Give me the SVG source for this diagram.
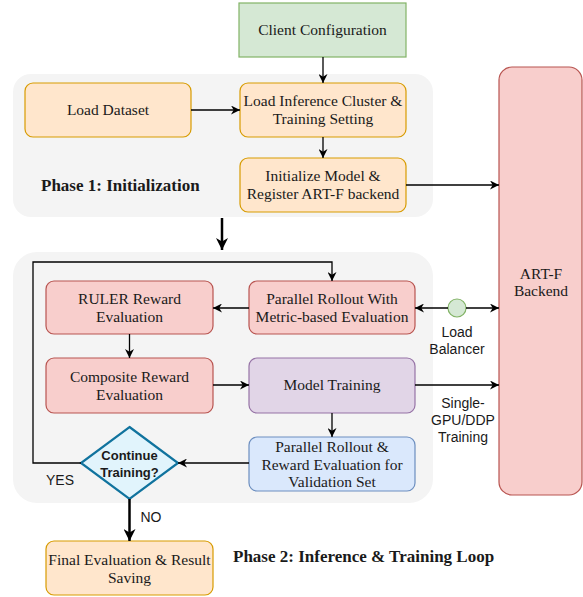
<svg xmlns="http://www.w3.org/2000/svg" width="583" height="597" viewBox="0 0 583 597">
<defs>
<marker id="arr" viewBox="0 0 10 10" refX="10" refY="5" markerWidth="9" markerHeight="9" markerUnits="userSpaceOnUse" orient="auto">
<path d="M0,0 L10,5 L0,10 L3,5 z" fill="#000"/>
</marker>
<marker id="arrB" viewBox="0 0 10 10" refX="10" refY="5" markerWidth="12" markerHeight="12" markerUnits="userSpaceOnUse" orient="auto">
<path d="M0,0 L10,5 L0,10 L3,5 z" fill="#000"/>
</marker>
<style>
.cont{fill:#f4f4f4;stroke:none}
.or{fill:#ffe6cc;stroke:#d79b00;stroke-width:1.2}
.rd{fill:#f8cecc;stroke:#b85450;stroke-width:1.2}
.gr{fill:#d5e8d4;stroke:#82b366;stroke-width:1.2}
.pu{fill:#e1d5e7;stroke:#9673a6;stroke-width:1.2}
.bl{fill:#dae8fc;stroke:#6c8ebf;stroke-width:1.2}
.t{font-family:"Liberation Serif","Times New Roman",serif;font-size:15.5px;fill:#1a1a1a;text-anchor:middle}
.tb{font-family:"Liberation Serif","Times New Roman",serif;font-size:17px;font-weight:bold;fill:#1a1a1a}
.s{font-family:"Liberation Sans",Arial,sans-serif;font-size:14px;fill:#1a1a1a;text-anchor:middle}
.sb{font-family:"Liberation Sans",Arial,sans-serif;font-size:13px;font-weight:bold;fill:#1a1a1a;text-anchor:middle}
.c{fill:none;stroke:#000;stroke-width:1.3;marker-end:url(#arr)}
.cb{fill:none;stroke:#000;stroke-width:2.5;marker-end:url(#arrB)}
</style>
</defs>
<g id="phase1">
<rect class="cont" x="13" y="74" width="420" height="143" rx="18"/>
<text class="tb" x="41" y="191">Phase 1: Initialization</text>
</g>
<g id="phase2">
<rect class="cont" x="13" y="252" width="420" height="251" rx="24"/>
<text class="tb" x="233" y="562">Phase 2: Inference &amp; Training Loop</text>
</g>
<g id="client">
<rect class="gr" x="239" y="3" width="167" height="54"/>
<text class="t" x="322.5" y="35">Client Configuration</text>
</g>
<g id="loadDataset">
<rect class="or" x="25" y="83" width="166" height="54" rx="8"/>
<text class="t" x="108" y="115">Load Dataset</text>
</g>
<g id="loadInference">
<rect class="or" x="240" y="83" width="166" height="54" rx="8"/>
<text class="t" x="323" y="106">Load Inference Cluster &amp;</text>
<text class="t" x="323" y="124">Training Setting</text>
</g>
<g id="initModel">
<rect class="or" x="240" y="158" width="166" height="54" rx="8"/>
<text class="t" x="323" y="181">Initialize Model &amp;</text>
<text class="t" x="323" y="199">Register ART-F backend</text>
</g>
<g id="artf">
<rect class="rd" x="499" y="67" width="83" height="428" rx="13"/>
<text class="t" x="541" y="279">ART-F</text>
<text class="t" x="541" y="296">Backend</text>
</g>
<g id="ruler">
<rect class="rd" x="46" y="281" width="167" height="53" rx="8"/>
<text class="t" x="129.5" y="304">RULER Reward</text>
<text class="t" x="129.5" y="322">Evaluation</text>
</g>
<g id="parallelRollout">
<rect class="rd" x="249" y="281" width="166" height="53" rx="8"/>
<text class="t" x="332" y="304">Parallel Rollout With</text>
<text class="t" x="332" y="322">Metric-based Evaluation</text>
</g>
<g id="composite">
<rect class="rd" x="46" y="358" width="167" height="55" rx="8"/>
<text class="t" x="129.5" y="382">Composite Reward</text>
<text class="t" x="129.5" y="400">Evaluation</text>
</g>
<g id="modelTraining">
<rect class="pu" x="249" y="358" width="166" height="55" rx="8"/>
<text class="t" x="332" y="390">Model Training</text>
</g>
<g id="validation">
<rect class="bl" x="249" y="437" width="166" height="54" rx="8"/>
<text class="t" x="332" y="452">Parallel Rollout &amp;</text>
<text class="t" x="332" y="469.5">Reward Evaluation for</text>
<text class="t" x="332" y="487">Validation Set</text>
</g>
<g id="decision">
<polygon points="129.5,427 178,463 129.5,499 81,463" fill="#e1f4fc" stroke="#10739e" stroke-width="2.2"/>
<text class="sb" x="129.5" y="459.5">Continue</text>
<text class="sb" x="129.5" y="476.5">Training?</text>
</g>
<g id="final">
<rect class="or" x="46" y="541" width="167" height="54" rx="8" stroke-width="2.2"/>
<text class="t" x="129.5" y="565">Final Evaluation &amp; Result</text>
<text class="t" x="129.5" y="583">Saving</text>
</g>
<g id="loadBalancer">
<circle cx="457" cy="308" r="9" fill="#d5e8d4" stroke="#82b366" stroke-width="1.2"/>
<text class="s" x="457" y="337">Load</text>
<text class="s" x="457" y="354">Balancer</text>
</g>
<g id="connectors">
<path class="c" d="M323,57 L323,83"/>
<path class="c" d="M191,110 L240,110"/>
<path class="c" d="M323,137 L323,158"/>
<path class="c" d="M406,185 L499,185"/>
<path class="cb" d="M222,218 L222,250"/>
<path class="c" d="M81,463 L33,463 L33,262 L332,262 L332,281"/>
<path class="c" d="M249,308 L213,308"/>
<path class="c" d="M129.5,334 L129.5,358"/>
<path class="c" d="M213,385 L249,385"/>
<path class="c" d="M415,385 L499,385"/>
<path class="c" d="M332,413 L332,437"/>
<path class="c" d="M249,463 L178,463"/>
<path class="cb" d="M129.5,499 L129.5,541"/>
<path class="c" d="M448,308 L415,308"/>
<path class="c" d="M466,308 L499,308"/>
<text class="s" x="463" y="408">Single-</text>
<text class="s" x="463" y="425">GPU/DDP</text>
<text class="s" x="463" y="442">Training</text>
<text class="s" x="60" y="485">YES</text>
<text class="s" x="151" y="522">NO</text>
</g>
</svg>
